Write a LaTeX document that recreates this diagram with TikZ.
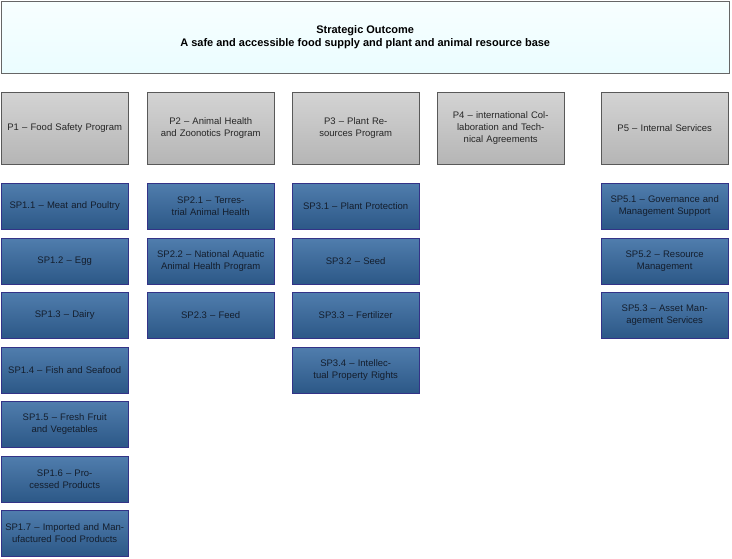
\documentclass[tikz,border=0pt]{standalone}
\usepackage{fontspec}
\setmainfont{Liberation Sans}
\begin{document}
\begin{tikzpicture}[x=1pt,y=-1pt,
  top/.style={draw=gray!80!black,top color=blue!4!cyan!3!white,bottom color=blue!12!cyan!8!white,minimum width=728pt,minimum height=72pt,anchor=north west,inner sep=0pt,align=center,font=\fontsize{11}{13}\selectfont\bfseries},
  prog/.style={draw=gray!70!black,top color=black!17,bottom color=black!29,minimum width=127pt,minimum height=72pt,anchor=north west,inner sep=2pt,text width=121pt,align=center,font=\fontsize{9.5}{12}\selectfont,text=black!85},
  sub/.style={draw=black!45!blue!60!gray,top color={rgb,255:red,80;green,125;blue,173},bottom color={rgb,255:red,44;green,88;blue,135},minimum width=127pt,minimum height=46pt,anchor=north west,inner sep=2pt,text width=121pt,align=center,font=\fontsize{9.5}{12}\selectfont,text={rgb,255:red,20;green,30;blue,45}}]
\useasboundingbox (0,0) rectangle (732,559);
\node[top] (so) at (1,1) {Strategic Outcome\\A safe and accessible food supply and plant and animal resource base};
\node[prog] (p1) at (1,92) {P1 -- Food Safety Program};
\node[prog] (p2) at (147,92) {P2 -- Animal Health and Zoonotics Program};
\node[prog] (p3) at (292,92) {P3 -- Plant Resources Program};
\node[prog] (p4) at (437,92) {P4 -- international Collaboration and Technical Agreements};
\node[prog] (p5) at (601,92) {P5 -- Internal Services};
\node[sub] (s11) at (1,183) {SP1.1 -- Meat and Poultry};
\node[sub] (s12) at (1,238) {SP1.2 -- Egg};
\node[sub] (s13) at (1,292) {SP1.3 -- Dairy};
\node[sub] (s14) at (1,347) {SP1.4 -- Fish and Seafood};
\node[sub] (s15) at (1,401) {SP1.5 -- Fresh Fruit and Vegetables};
\node[sub] (s16) at (1,456) {SP1.6 -- Processed Products};
\node[sub] (s17) at (1,510) {SP1.7 -- Imported and Manufactured Food Products};
\node[sub] (s21) at (147,183) {SP2.1 -- Terrestrial Animal Health};
\node[sub] (s22) at (147,238) {SP2.2 -- National Aquatic Animal Health Program};
\node[sub] (s23) at (147,292) {SP2.3 -- Feed};
\node[sub] (s31) at (292,183) {SP3.1 -- Plant Protection};
\node[sub] (s32) at (292,238) {SP3.2 -- Seed};
\node[sub] (s33) at (292,292) {SP3.3 -- Fertilizer};
\node[sub] (s34) at (292,347) {SP3.4 -- Intellectual Property Rights};
\node[sub] (s51) at (601,183) {SP5.1 -- Governance and Management Support};
\node[sub] (s52) at (601,238) {SP5.2 -- Resource Management};
\node[sub] (s53) at (601,292) {SP5.3 -- Asset Management Services};
\end{tikzpicture}
\end{document}
